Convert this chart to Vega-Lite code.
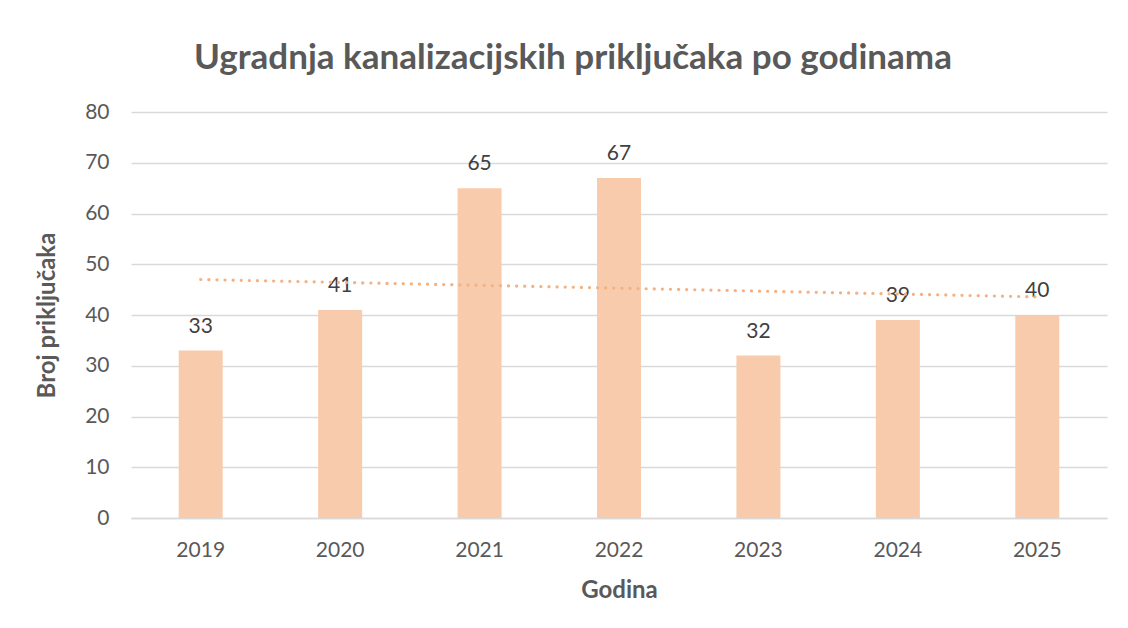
{
  "$schema": "https://vega.github.io/schema/vega-lite/v6.json",
  "width": 976,
  "height": 406,
  "autosize": {"type": "none"},
  "padding": {"left": 131, "top": 112, "right": 21, "bottom": 110},
  "background": "white",
  "title": {
    "text": "Ugradnja kanalizacijskih priključaka po godinama",
    "font": "Lato",
    "fontSize": 35,
    "fontWeight": "bold",
    "color": "#595959",
    "anchor": "middle",
    "dx": -46,
    "offset": 25
  },
  "data": {
    "values": [
      {"year": 2019, "count": 33},
      {"year": 2020, "count": 41},
      {"year": 2021, "count": 65},
      {"year": 2022, "count": 67},
      {"year": 2023, "count": 32},
      {"year": 2024, "count": 39},
      {"year": 2025, "count": 40}
    ]
  },
  "config": {
    "view": {"stroke": null},
    "axis": {
      "labelFont": "Lato",
      "labelFontSize": 21,
      "labelColor": "#595959",
      "titleFont": "Lato",
      "titleFontSize": 24,
      "titleFontWeight": "bold",
      "titleColor": "#595959",
      "gridColor": "#d9d9d9",
      "gridWidth": 1.3,
      "ticks": false,
      "labelOverlap": false
    }
  },
  "encoding": {
    "x": {
      "field": "year",
      "type": "ordinal",
      "scale": {"paddingInner": 0, "paddingOuter": 0},
      "axis": {
        "title": "Godina",
        "labelAngle": 0,
        "labelPadding": 21,
        "titlePadding": 18,
        "domainColor": "#d9d9d9",
        "domainWidth": 1.5,
        "grid": false
      }
    },
    "y": {
      "field": "count",
      "type": "quantitative",
      "scale": {"domain": [0, 80]},
      "axis": {
        "title": "Broj priključaka",
        "values": [0, 10, 20, 30, 40, 50, 60, 70, 80],
        "domain": false,
        "labelPadding": 22,
        "titlePadding": 25
      }
    }
  },
  "layer": [
    {
      "mark": {"type": "bar", "width": 44, "color": "#f8cbad"}
    },
    {
      "mark": {
        "type": "text",
        "font": "Lato",
        "fontSize": 21,
        "color": "#404040",
        "baseline": "alphabetic",
        "dy": -18
      },
      "encoding": {
        "text": {"field": "count", "type": "quantitative"}
      }
    },
    {
      "transform": [
        {"regression": "count", "on": "year", "method": "linear"}
      ],
      "mark": {
        "type": "line",
        "color": "#f4b183",
        "strokeWidth": 3.2,
        "strokeCap": "round",
        "strokeDash": [0.1, 8]
      },
      "encoding": {}
    }
  ]
}
